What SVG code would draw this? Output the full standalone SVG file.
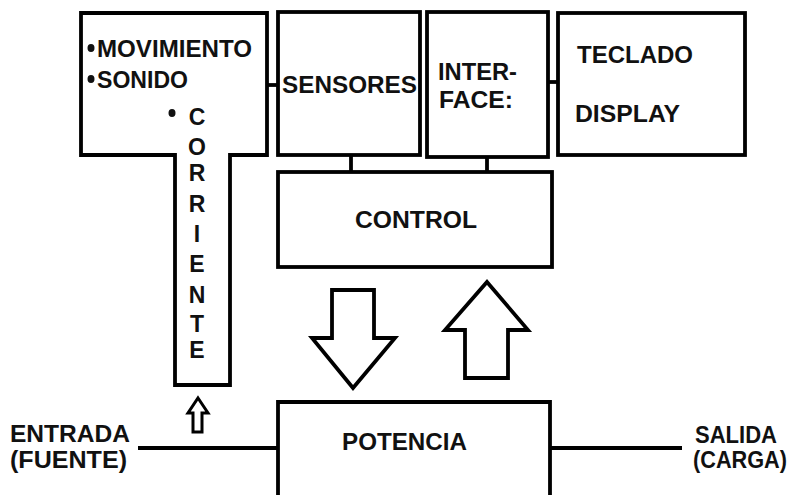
<svg xmlns="http://www.w3.org/2000/svg" width="799" height="495" viewBox="0 0 799 495">
<style>
.box{fill:#fff;stroke:#000;stroke-width:3.8}
.ln{fill:none;stroke:#000;stroke-width:3.8}
.arr{fill:#fff;stroke:#000;stroke-width:3.8;stroke-linejoin:miter}
text{font-family:"Liberation Sans",Arial,sans-serif;font-weight:bold;fill:#111}
.t{font-size:24px}
.v{font-size:23px;text-anchor:middle}
.dot{fill:#111}
</style>
<rect width="799" height="495" fill="#fff"/>
<g id="connectors">
<line class="ln" x1="267" y1="85" x2="278" y2="85"/>
<line class="ln" x1="548" y1="82" x2="558" y2="82"/>
<line class="ln" x1="351" y1="155" x2="351" y2="172"/>
<line class="ln" x1="487" y1="157" x2="487" y2="172"/>
<line class="ln" x1="138" y1="448" x2="278" y2="448"/>
<line class="ln" x1="550" y1="448" x2="682" y2="448"/>
<polygon class="arr" points="332,290 374,290 374,338 395,338 353,388 312,338 332,338"/>
<polygon class="arr" points="487,282 528,330 508,330 508,378 465,378 465,330 445,330"/>
<polygon points="198,398 208,413 202,413 202,432 193,432 193,413 188,413" fill="#fff" stroke="#000" stroke-width="3"/>
</g>
<g id="node-corriente">
<polygon class="box" points="81,13 267,13 267,155 230,155 230,385 175,385 175,155 81,155"/>
<ellipse class="dot" cx="91" cy="48" rx="3.5" ry="4"/>
<text class="t" x="97" y="57" textLength="155" lengthAdjust="spacingAndGlyphs">MOVIMIENTO</text>
<ellipse class="dot" cx="91" cy="79" rx="3.5" ry="4"/>
<text class="t" x="97" y="88" textLength="91" lengthAdjust="spacingAndGlyphs">SONIDO</text>
<ellipse class="dot" cx="172" cy="113" rx="3.5" ry="4"/>
<text class="v" x="197" y="125">C</text>
<text class="v" x="197" y="155">O</text>
<text class="v" x="197" y="181">R</text>
<text class="v" x="197" y="212">R</text>
<text class="v" x="197" y="242">I</text>
<text class="v" x="197" y="272">E</text>
<text class="v" x="197" y="303">N</text>
<text class="v" x="197" y="332">T</text>
<text class="v" x="197" y="358">E</text>
</g>
<g id="node-sensores">
<rect class="box" x="278" y="12" width="142" height="143"/>
<text class="t" x="282" y="93" textLength="135" lengthAdjust="spacingAndGlyphs">SENSORES</text>
</g>
<g id="node-interface">
<rect class="box" x="427" y="12" width="121" height="145"/>
<text class="t" x="438" y="80" textLength="79" lengthAdjust="spacingAndGlyphs">INTER-</text>
<text class="t" x="439" y="108" textLength="74" lengthAdjust="spacingAndGlyphs">FACE:</text>
</g>
<g id="node-teclado">
<rect class="box" x="558" y="13" width="187" height="142"/>
<text class="t" x="577" y="63" textLength="116" lengthAdjust="spacingAndGlyphs">TECLADO</text>
<text class="t" x="575" y="122" textLength="105" lengthAdjust="spacingAndGlyphs">DISPLAY</text>
</g>
<g id="node-control">
<rect class="box" x="278" y="172" width="274" height="95"/>
<text class="t" x="355" y="228" textLength="122" lengthAdjust="spacingAndGlyphs">CONTROL</text>
</g>
<g id="node-potencia">
<polyline class="ln" points="278,500 278,402 550,402 550,500"/>
<text class="t" x="342" y="450" textLength="125" lengthAdjust="spacingAndGlyphs">POTENCIA</text>
</g>
<g id="node-entrada">
<text class="t" x="10" y="442" textLength="120" lengthAdjust="spacingAndGlyphs">ENTRADA</text>
<text class="t" x="10" y="468" textLength="117" lengthAdjust="spacingAndGlyphs">(FUENTE)</text>
</g>
<g id="node-salida">
<text class="t" x="695" y="443" textLength="82" lengthAdjust="spacingAndGlyphs">SALIDA</text>
<text class="t" x="693" y="468" textLength="94" lengthAdjust="spacingAndGlyphs">(CARGA)</text>
</g>
</svg>
